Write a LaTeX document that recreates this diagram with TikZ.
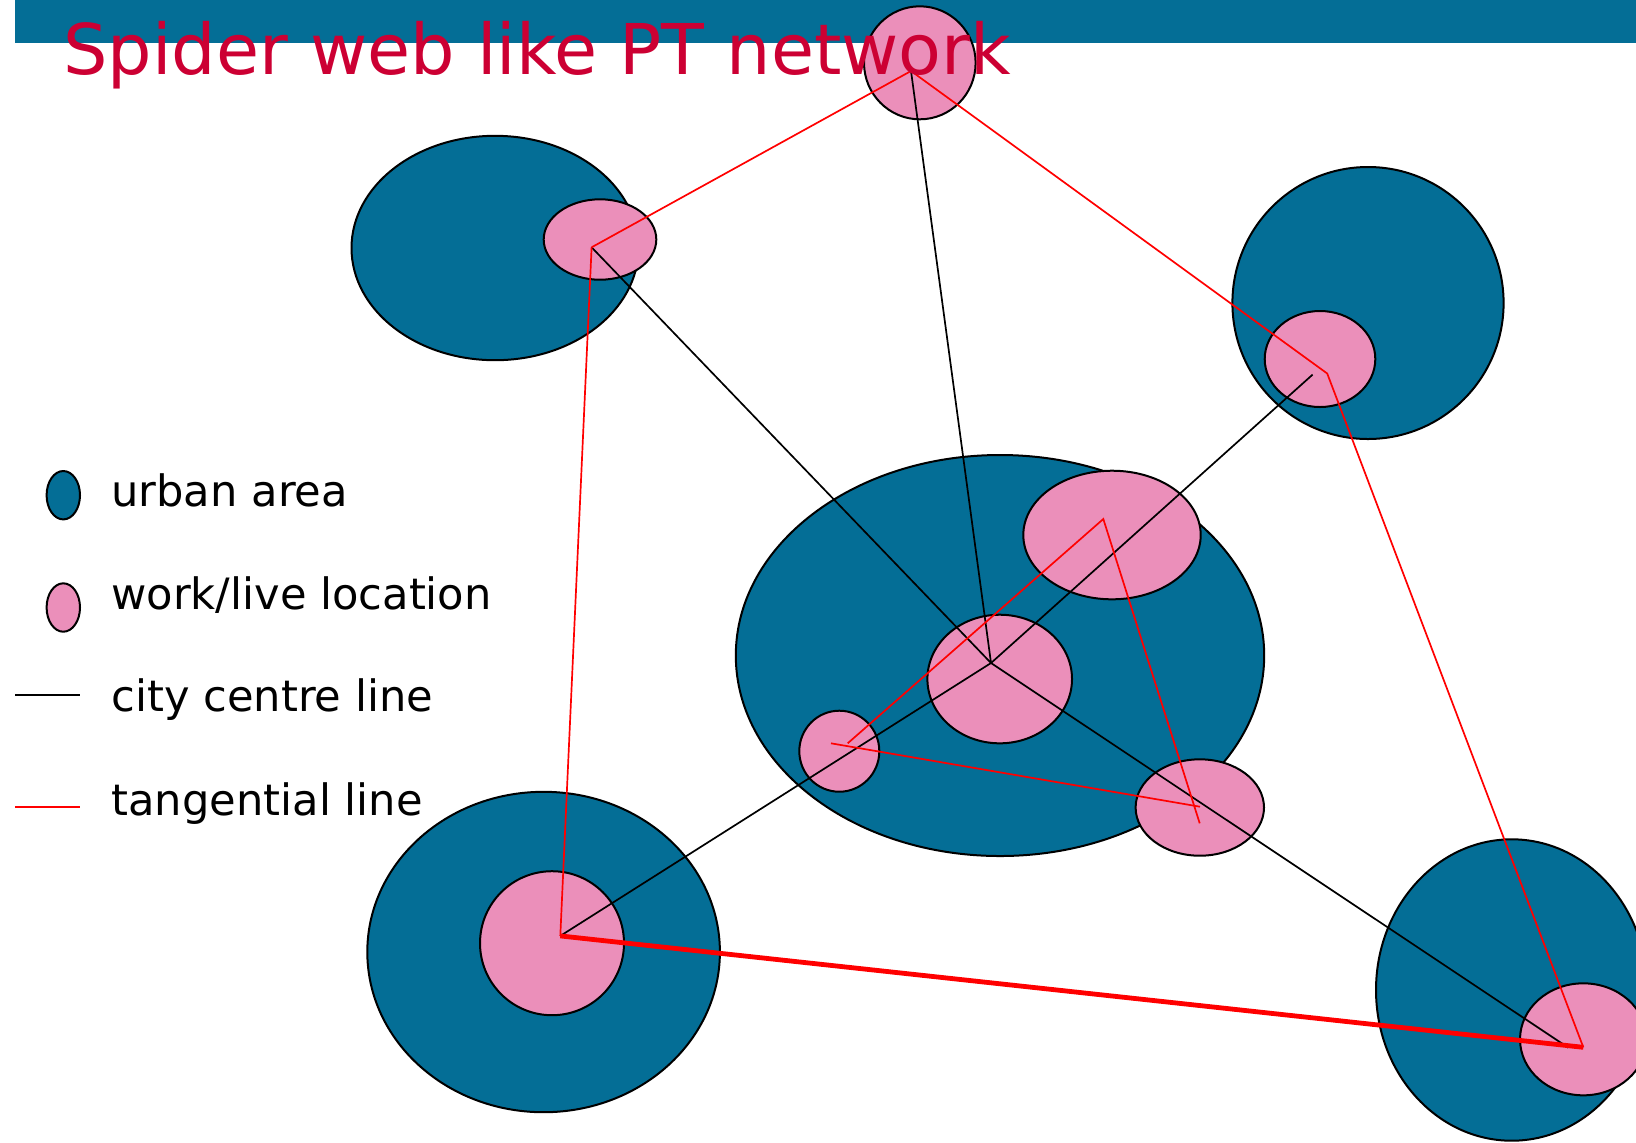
\documentclass[tikz,border=0pt]{standalone}
\usepackage{fontspec}
\setmainfont{DejaVu Sans}
\usetikzlibrary{shapes.geometric}
\definecolor{ublue}{RGB}{4,110,150}
\definecolor{lpink}{RGB}{235,143,186}
\definecolor{tred}{RGB}{204,0,51}
\begin{document}
\begin{tikzpicture}[x=0.5pt,y=-0.5pt,
  area/.style={ellipse,draw=black,line width=1pt,fill=ublue,inner sep=0pt},
  loc/.style={ellipse,draw=black,line width=1pt,fill=lpink,inner sep=0pt},
  cline/.style={draw=black,line width=0.85pt},
  tline/.style={draw=red,line width=0.85pt},
  tthick/.style={draw=red,line width=2.4pt},
  lab/.style={anchor=base west,inner sep=0pt,font=\fontsize{21.6}{26}\selectfont}]
\useasboundingbox (0,0) rectangle (1636,1142);
\fill[ublue] (15,0) rectangle (1636,43);
% urban areas
\node[area,minimum width=143.5pt,minimum height=112.2pt] (tlA) at (495,248) {};
\node[area,minimum width=135.6pt,minimum height=136pt] (trA) at (1368,303) {};
\node[area,minimum width=264.2pt,minimum height=200.5pt] (cA) at (1000,655.5) {};
\node[area,minimum width=176.3pt,minimum height=160.2pt] (blA) at (543.6,952) {};
\node[area,minimum width=135.7pt,minimum height=150.7pt] (brA) at (1511.7,990) {};
% locations
\node[loc,minimum width=55.8pt,minimum height=56.5pt] (topL) at (919.8,62.8) {};
\node[loc,minimum width=56.3pt,minimum height=40.2pt] (tlL) at (600,239.5) {};
\node[loc,minimum width=55.3pt,minimum height=48pt] (trL) at (1320,359) {};
\node[loc,minimum width=88.7pt,minimum height=64.3pt] (c1) at (1112,535) {};
\node[loc,minimum width=72.3pt,minimum height=64.3pt] (c0) at (999.7,679) {};
\node[loc,minimum width=40pt,minimum height=40.5pt] (c2) at (839.3,751.2) {};
\node[loc,minimum width=64.2pt,minimum height=48.2pt] (c3) at (1199.8,807.5) {};
\node[loc,minimum width=72pt,minimum height=72pt] (blL) at (552,943.2) {};
\node[loc,minimum width=63.3pt,minimum height=56pt] (brL) at (1583.3,1039.3) {};
% hub points
\coordinate (hub) at (991,663);
\coordinate (hT) at (911,71);
\coordinate (hTL) at (591.6,247.3);
\coordinate (hTRb) at (1312.6,374.6);
\coordinate (hTRr) at (1327.2,373.5);
\coordinate (hBL) at (560.3,935.9);
\coordinate (hBRb) at (1568.3,1047.7);
\coordinate (hBRr) at (1583.3,1047.3);
\coordinate (r1) at (831,743.3);
\coordinate (r2) at (1200,806.7);
\coordinate (r3) at (847.7,743.3);
\coordinate (r4) at (1103.3,519);
\coordinate (r5) at (1199.7,823.3);
% city centre lines
\draw[cline] (hub) -- (hTL);
\draw[cline] (hub) -- (hT);
\draw[cline] (hub) -- (hTRb);
\draw[cline] (hub) -- (hBL);
\draw[cline] (hub) -- (hBRb);
% tangential lines
\draw[tline] (hTL) -- (hT) -- (hTRr) -- (hBRr);
\draw[tline] (hTL) -- (hBL);
\draw[tthick] (hBL) -- (hBRr);
\draw[tline] (r1) -- (r2);
\draw[tline] (r3) -- (r4) -- (r5);
% title
\node[anchor=base west,inner sep=0pt,text=tred,font=\fontsize{35}{42}\selectfont] (title) at (63,74) {Spider web like PT network};
% legend
\node[area,minimum width=16.7pt,minimum height=24.2pt] (legA) at (63.3,495.2) {};
\node[loc,minimum width=16.7pt,minimum height=24.2pt] (legL) at (63.3,607.5) {};
\coordinate (lc1) at (15,695);
\coordinate (lc2) at (80,695);
\coordinate (lt1) at (15,806.7);
\coordinate (lt2) at (80,806.7);
\draw[cline] (lc1) -- (lc2);
\draw[tline] (lt1) -- (lt2);
\node[lab] (labA) at (111,506.7) {urban area};
\node[lab] (labL) at (111,609.3) {work/live location};
\node[lab] (labC) at (111,711.7) {city centre line};
\node[lab] (labT) at (111,815) {tangential line};
\end{tikzpicture}
\end{document}
